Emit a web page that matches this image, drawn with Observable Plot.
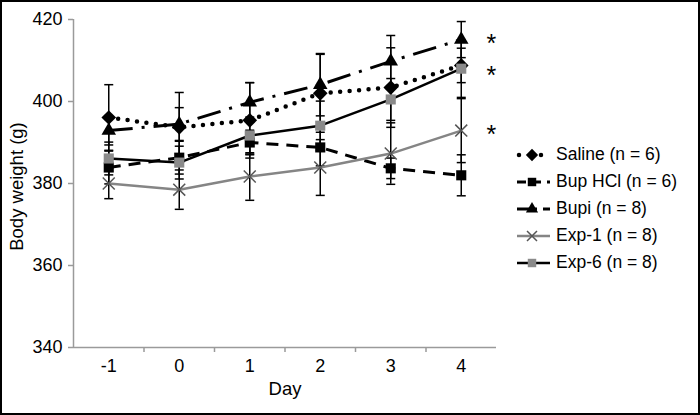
<!DOCTYPE html>
<html><head><meta charset="utf-8">
<script src="https://cdn.jsdelivr.net/npm/d3@7"></script>
<script src="https://cdn.jsdelivr.net/npm/@observablehq/plot@0.6"></script>
<style>
body{margin:0;background:#fff;}
#wrap{position:relative;width:700px;height:415px;overflow:hidden;font-family:"Liberation Sans",Arial,sans-serif;background:#fff;}
#chart{position:absolute;left:0;top:0;}
#frame{position:absolute;left:0;top:0;width:700px;height:415px;box-sizing:border-box;border:2px solid #000;pointer-events:none;}
#legend{position:absolute;left:516px;top:141px;}
.row{display:flex;align-items:center;height:27px;}
.row span{font-size:17.5px;margin-left:4px;color:#000;white-space:nowrap;}
</style></head><body>
<div id="wrap"><div id="chart"></div><div id="legend"></div><div id="frame"></div></div>
<script>
// ---- data ----
const days = [-1, 0, 1, 2, 3, 4];
const xTickLabels = ["-1", "0", "1", "2", "3", "4"];
const yTicks = [340, 360, 380, 400, 420];
const seriesNames = ["Saline (n = 6)", "Bup HCl (n = 6)", "Bupi (n = 8)", "Exp-1 (n = 8)", "Exp-6 (n = 8)"];
const saline   = [396.1, 393.7, 395.4, 402.0, 403.4, 408.8];
const salineSE = [8.0, 8.5, 9.2, 9.5, 9.7, 4.2];
const bupHCl   = [383.9, 386.3, 390.0, 388.8, 383.7, 382.0];
const bupHClSE = [4.0, 4.0, 3.0, 4.5, 2.5, 5.0];
const bupi     = [392.9, 394.5, 399.8, 404.1, 409.8, 415.1];
const bupiSE   = [3.5, 4.0, 4.8, 7.6, 6.3, 4.4];
const exp1     = [380.0, 378.5, 381.7, 383.9, 387.3, 392.9];
const exp1SE   = [3.7, 4.8, 5.8, 6.8, 7.5, 7.8];
const exp6     = [386.1, 385.1, 391.7, 394.1, 400.5, 408.0];
const exp6SE   = [4.0, 4.0, 4.5, 6.0, 5.1, 7.0];
const starLabels = ["*", "*", "*"];
const starValues = [415.5, 407.6, 393.3];
const xLabel = "Day";
const yLabel = "Body weight (g)";

// ---- build ----
const values = [saline, bupHCl, bupi, exp1, exp6];
const ses = [salineSE, bupHClSE, bupiSE, exp1SE, exp6SE];
const rows = [];
seriesNames.forEach((s, i) => days.forEach((d, j) => rows.push({series: s, day: d, v: values[i][j], se: ses[i][j]})));
const stars = starValues.map((v, i) => ({day: days[days.length - 1], v, t: starLabels[i]}));

const styles = [
  {stroke: "#000", width: 4.5, dash: "0 9.5", cap: "round", symbol: "diamond2", r: 6.6, fill: "#000", mstroke: "none"},
  {stroke: "#000", width: 3, dash: "12 8", cap: "butt", symbol: "square", r: 5.7, fill: "#000", mstroke: "none"},
  {stroke: "#000", width: 3, dash: "24 9 3 9", cap: "butt", symbol: "triangle", r: 5.4, fill: "#000", mstroke: "none"},
  {stroke: "#858585", width: 2.5, dash: null, cap: "butt", symbol: "times", r: 5.5, fill: "none", mstroke: "#555"},
  {stroke: "#000", width: 2.5, dash: null, cap: "butt", symbol: "square", r: 5.7, fill: "#8a8a8a", mstroke: "none"}
];

const capSymbol = {draw(ctx) { ctx.moveTo(-4.5, 0); ctx.lineTo(4.5, 0); }};

const marks = [
  Plot.ruleX([-1.5], {stroke: "#9a9a9a", strokeWidth: 1.5}),
  Plot.ruleY([340], {stroke: "#9a9a9a", strokeWidth: 1.5}),
  Plot.axisY({ticks: yTicks, tickSize: 5, tickPadding: 6, fontSize: 18, label: null, stroke: "#9a9a9a", strokeWidth: 1.5, tickFormat: d => String(d)}),
  Plot.axisX({ticks: [-0.5, 0.5, 1.5, 2.5, 3.5], tickSize: 5, tickFormat: () => "", label: null, stroke: "#9a9a9a", strokeWidth: 1.5}),
  Plot.axisX({ticks: days, tickSize: 0, tickPadding: 12, fontSize: 18, label: null, tickFormat: (d, i) => xTickLabels[i]}),
  Plot.text([yLabel], {frameAnchor: "left", dx: -56, dy: 3, rotate: -90, fontSize: 18.5, textAnchor: "middle", lineAnchor: "middle"}),
  Plot.text([xLabel], {frameAnchor: "bottom", dy: 42, fontSize: 18.5, textAnchor: "middle", lineAnchor: "middle"}),
  // error bars
  Plot.ruleX(rows, {x: "day", y1: d => d.v - d.se, y2: d => d.v + d.se, stroke: "#000", strokeWidth: 1.5}),
  Plot.dot(rows, {x: "day", y: d => d.v + d.se, symbol: capSymbol, stroke: "#000", strokeWidth: 1.5, fill: "none"}),
  Plot.dot(rows, {x: "day", y: d => d.v - d.se, symbol: capSymbol, stroke: "#000", strokeWidth: 1.5, fill: "none"})
];
seriesNames.forEach((s, i) => {
  const st = styles[i];
  const data = rows.filter(r => r.series === s);
  marks.push(Plot.line(data, {x: "day", y: "v", stroke: st.stroke, strokeWidth: st.width, strokeDasharray: st.dash, strokeLinecap: st.cap}));
});
seriesNames.forEach((s, i) => {
  const st = styles[i];
  const data = rows.filter(r => r.series === s);
  marks.push(Plot.dot(data, {x: "day", y: "v", symbol: st.symbol, r: st.r, fill: st.fill, stroke: st.mstroke, strokeWidth: 1.5}));
});
marks.push(Plot.text(stars, {x: "day", y: "v", text: "t", dx: 30, dy: 6, fontSize: 25, textAnchor: "middle", lineAnchor: "middle"}));

const chart = Plot.plot({
  width: 700, height: 415,
  marginTop: 19, marginRight: 204, marginBottom: 68, marginLeft: 73,
  x: {type: "linear", domain: [-1.5, 4.5]},
  y: {domain: [340, 420]},
  style: {fontFamily: '"Liberation Sans", Arial, sans-serif', background: "transparent", color: "#000", overflow: "visible"},
  marks
});
document.getElementById("chart").appendChild(chart);

// ---- legend ----
const legend = d3.select("#legend");
seriesNames.forEach((s, i) => {
  const st = styles[i];
  const row = legend.append("div").attr("class", "row");
  const svg = row.append("svg").attr("width", 36).attr("height", 20);
  svg.append("line").attr("x1", st.cap === "round" ? 3 : 1).attr("x2", 34).attr("y1", 10).attr("y2", 10)
    .attr("stroke", st.stroke).attr("stroke-width", st.width)
    .attr("stroke-dasharray", st.dash === "0 9.5" ? "0 11" : st.dash === "12 8" ? "9 6" : st.dash === "24 9 3 9" ? "12 6 2 6" : null)
    .attr("stroke-linecap", st.cap);
  const sym = {diamond2: d3.symbolDiamond2, square: d3.symbolSquare, triangle: d3.symbolTriangle, times: d3.symbolTimes}[st.symbol];
  svg.append("path").attr("transform", "translate(16,10)")
    .attr("d", d3.symbol(sym, st.r * st.r * Math.PI * 0.7)())
    .attr("fill", st.fill).attr("stroke", st.mstroke).attr("stroke-width", 1.5);
  row.append("span").text(s);
});
</script>
</body></html>
